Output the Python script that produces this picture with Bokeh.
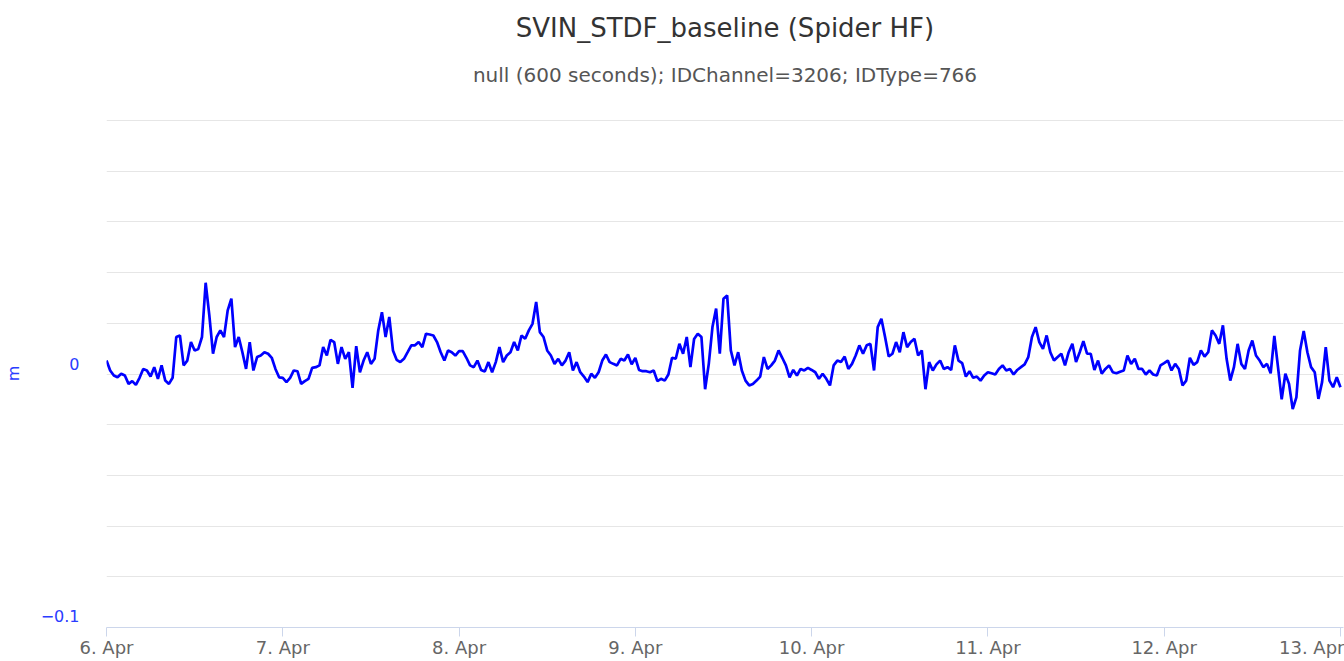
from datetime import datetime, timedelta
from bokeh.plotting import figure
from bokeh.models import (ColumnDataSource, Range1d, FixedTicker, DaysTicker,
                          DatetimeTickFormatter, CustomJSTickFormatter, Title)
from bokeh.embed import file_html
from bokeh.resources import INLINE

title_text = "SVIN_STDF_baseline (Spider HF)"
subtitle_text = "null (600 seconds); IDChannel=3206; IDType=766"
y_axis_label = "m"
start_time = datetime(2021, 4, 6)
step_minutes = 30

# values (millimetres), one every 30 minutes from 6 Apr 00:00
values_mm = [
    5.3, 1.4, -0.6, -1.3, 0.1, -0.6, -3.9, -2.8, -4.3, -1.5,
    2.0, 1.4, -1.0, 2.7, -1.9, 3.4, -2.6, -3.9, -1.5, 14.6,
    15.2, 3.4, 5.3, 12.6, 9.3, 9.9, 14.6, 36.0, 23.1, 8.0,
    14.6, 17.2, 14.6, 25.1, 29.7, 10.6, 14.6, 8.6, 2.0, 12.6,
    1.4, 6.7, 7.3,
    8.6, 8.0, 6.4, 2.0, -1.3, -1.5, -3.2, -1.5, 1.4, 1.1,
    -3.9, -2.8, -1.9, 2.4, 2.7, 3.4, 10.6, 7.3, 13.5, 12.6,
    4.0, 10.6, 6.0, 8.6, -5.5, 11.0, 0.7, 5.3, 8.6, 4.0,
    6.0, 17.2, 24.4, 14.6, 22.5, 9.3, 5.6, 4.7, 6.0, 8.6,
    11.3, 11.3,
    12.6, 10.6, 15.9, 15.6, 15.2, 12.6, 8.6, 5.3, 9.3, 8.6,
    7.3, 9.0, 9.0, 6.4, 3.4, 2.7, 5.3, 1.6, 1.0, 4.7,
    0.7, 4.7, 10.6, 4.7, 7.3, 8.6, 12.6, 9.3, 15.2, 13.9,
    17.2, 19.8, 28.4, 16.5, 14.6, 9.3, 7.3, 4.0, 6.0, 3.4,
    5.3, 8.6,
    1.4, 4.7, 0.7, -1.0, -3.2, 0.1, -1.5, 0.7, 5.3, 7.7,
    4.7, 4.0, 3.4, 6.0, 5.3, 7.7, 3.8, 6.4, 1.6, 1.1,
    1.1, 0.7, 1.4, -2.8, -1.9, -2.6, -0.2, 6.4, 6.0, 11.9,
    8.0, 14.6, 2.7, 13.8, 15.9, 14.6, -6.0, 4.0, 18.5, 25.8,
    8.0, 29.7,
    31.0, 9.3, 3.4, 8.6, 1.4, -2.6, -4.5, -3.9, -2.6, -1.0,
    6.7, 2.0, 3.4, 5.3, 9.3, 6.4, 3.4, -1.3, 1.6, -0.6,
    2.0, 1.4, 2.4, 1.6, 0.7, -1.9, 0.1, -1.9, -4.5, 3.4,
    5.3, 4.7, 6.9, 2.0, 4.0, 7.3, 11.3, 8.0, 11.3, 11.9,
    1.4, 18.5,
    21.8, 14.6, 6.9, 8.0, 12.6, 8.6, 16.5, 10.6, 12.6, 13.9,
    7.3, 9.3, -6.0, 4.7, 1.4, 3.8, 5.3, 2.0, 2.7, 1.6,
    11.3, 5.3, 4.3, -1.0, 1.1, -1.5, -1.0, -2.6, -0.6, 0.7,
    0.3, -0.2, 2.0, 3.4, 1.4, 2.0, -0.2, 1.6, 2.7, 3.8,
    6.7, 14.6,
    18.5, 12.6, 9.9, 15.2, 8.6, 5.3, 6.7, 8.0, 3.4, 8.6,
    11.9, 4.7, 8.6, 13.0, 8.0, 8.0, 1.6, 5.3, 0.1, 2.0,
    3.4, 0.7, 0.3, 0.9, 1.4, 7.3, 4.0, 6.0, 2.0, 2.0,
    -0.2, 1.4, -0.2, -0.6, 3.4, 4.3, 5.3, 1.4, 4.0, 2.0,
    -4.5, -2.6, 6.4,
    3.6, 4.7, 9.3, 6.9, 8.6, 17.2, 15.2, 11.9, 19.2, 6.0,
    -2.6, 2.7, 11.9, 4.0, 2.0, 9.3, 13.2, 7.3, 5.3, 2.7,
    4.0, 0.3, 15.0, 2.7, -10.0, 0.1, -3.9, -13.8, -9.2, 9.3,
    17.0, 8.6, 2.7, 0.7, -9.8, -3.2, 10.6, -2.6, -5.2, -1.3,
    -5.2,
]

grid_values = [-0.1, -0.08, -0.06, -0.04, -0.02, 0.0, 0.02, 0.04, 0.06, 0.08, 0.1]
y_label_ticks = [-0.0955, 0.004]

times = [start_time + timedelta(minutes=step_minutes * i) for i in range(len(values_mm))]
values_m = [v / 1000.0 for v in values_mm]
source = ColumnDataSource(data=dict(t=times, v=values_m))

FONT = "DejaVu Sans"
BLUE = "#0000ff"
LABEL_BLUE = "#2a3cff"

p = figure(width=1344, height=661, x_axis_type="datetime",
           output_backend="svg", toolbar_location=None, title=None,
           x_range=Range1d(start_time, start_time + timedelta(days=7, minutes=25)),
           y_range=Range1d(-0.1, 0.1004),
           min_border_left=105, min_border_right=1, min_border_top=119,
           min_border_bottom=34)
p.outline_line_color = None
p.background_fill_color = "white"
p.border_fill_color = "white"

sub = Title(text=subtitle_text, align="center", text_font=FONT,
            text_font_size="20px", text_font_style="normal",
            text_color="#555555", standoff=66)
try:
    main = Title(text=title_text, align="center", text_font=FONT,
                 text_font_size="26px", text_font_style="normal",
                 text_color="#333333", standoff=-31)
except Exception:
    main = Title(text=title_text, align="center", text_font=FONT,
                 text_font_size="26px", text_font_style="normal",
                 text_color="#333333", standoff=0)
p.add_layout(sub, "above")
p.add_layout(main, "above")

p.line("t", "v", source=source, line_color=BLUE, line_width=2.7)

yticker = FixedTicker(ticks=y_label_ticks, minor_ticks=grid_values)
p.yaxis.ticker = yticker
p.ygrid.ticker = yticker
p.yaxis.formatter = CustomJSTickFormatter(code="return tick > -0.05 ? '0' : '\u22120.1';")
p.ygrid.grid_line_color = None
p.ygrid.minor_grid_line_color = "#e6e6e6"
p.ygrid.minor_grid_line_width = 1
p.yaxis.axis_line_color = None
p.yaxis.major_tick_line_color = None
p.yaxis.major_tick_out = 0
p.yaxis.major_tick_in = 0
p.yaxis.minor_tick_line_color = None
p.yaxis.minor_tick_out = 0
p.yaxis.major_label_standoff = 27
p.yaxis.major_label_text_color = LABEL_BLUE
p.yaxis.major_label_text_font = FONT
p.yaxis.major_label_text_font_size = "16px"
p.yaxis.axis_label = y_axis_label
p.yaxis.axis_label_text_color = LABEL_BLUE
p.yaxis.axis_label_text_font = FONT
p.yaxis.axis_label_text_font_size = "16px"
p.yaxis.axis_label_text_font_style = "normal"
p.yaxis.axis_label_standoff = 15

p.xgrid.grid_line_color = None
p.xaxis.ticker = DaysTicker(days=list(range(1, 32)))
p.xaxis.formatter = DatetimeTickFormatter(days="%-d. %b")
p.xaxis.axis_line_color = "#ccd6eb"
p.xaxis.major_tick_line_color = "#ccd6eb"
p.xaxis.major_tick_in = 0
p.xaxis.major_tick_out = 9
p.xaxis.minor_tick_line_color = None
p.xaxis.minor_tick_out = 0
p.xaxis.major_label_standoff = 0
p.xaxis.axis_label_standoff = 0
p.xaxis.major_label_text_color = "#666666"
p.xaxis.major_label_text_font = FONT
p.xaxis.major_label_text_font_size = "18px"

open("out.html", "w").write(file_html(p, INLINE))
